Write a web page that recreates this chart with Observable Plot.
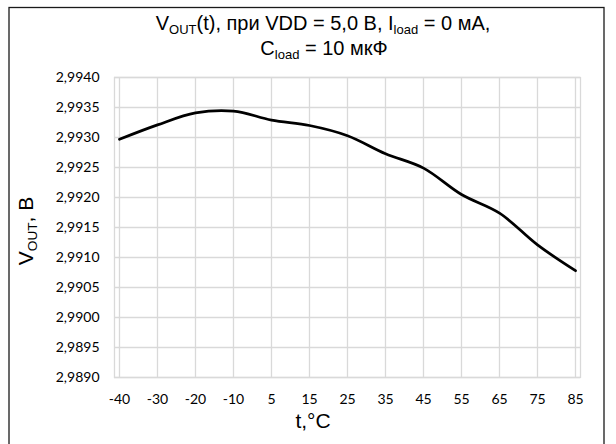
<!DOCTYPE html>
<html>
<head>
<meta charset="utf-8">
<script src="https://cdn.jsdelivr.net/npm/d3@7"></script>
<script src="https://cdn.jsdelivr.net/npm/@observablehq/plot@0.6"></script>
<style>
  html, body { margin: 0; padding: 0; background: #fff; }
  #chart { width: 616px; height: 444px; overflow: hidden; }
</style>
</head>
<body>
<div id="chart"></div>
<script>
// Temperature categories (equally spaced in the original chart)
const categories = ["-40", "-30", "-20", "-10", "5", "15", "25", "35", "45", "55", "65", "75", "85"];
// Output voltage, V
const vout = [2.99297, 2.99321, 2.99341, 2.99344, 2.99329, 2.99320, 2.99303, 2.99273, 2.99249, 2.99205, 2.99174, 2.99121, 2.99078];
// Y axis tick values
const yTicks = [2.9890, 2.9895, 2.9900, 2.9905, 2.9910, 2.9915, 2.9920, 2.9925, 2.9930, 2.9935, 2.9940];

const table = categories.map((t, i) => ({ t, v: vout[i] }));
const grid = "#d9d9d9";
const fmt = d => d.toFixed(4).replace(".", ",");

const svg = Plot.plot({
  width: 616,
  height: 444,
  marginLeft: 114,
  marginRight: 36,
  marginTop: 77,
  marginBottom: 67,
  style: { fontFamily: "Lato, 'Open Sans', sans-serif", fontSize: "14px", color: "#000", background: "#fff" },
  x: { type: "point", domain: categories, padding: 0, label: null },
  y: { domain: [2.989, 2.994], label: null },
  marks: [
    Plot.gridY(yTicks, { stroke: grid, strokeOpacity: 1, strokeWidth: 1.3 }),
    Plot.gridX(categories, { stroke: grid, strokeOpacity: 1, strokeWidth: 1.3 }),
    Plot.frame({ stroke: grid, strokeWidth: 1.3 }),
    Plot.axisY(yTicks, { tickSize: 0, tickPadding: 15, tickFormat: fmt, fontSize: 14, label: null }),
    Plot.axisX(categories, { tickSize: 0, tickPadding: 17, fontSize: 14, label: null }),
    Plot.line(table, { x: "t", y: "v", curve: "catmull-rom", stroke: "#000", strokeWidth: 2.75 })
  ]
});

const s = d3.select(svg);
// Outer chart border
s.append("rect")
  .attr("x", 9).attr("y", 7.5).attr("width", 595).attr("height", 460)
  .attr("fill", "none").attr("stroke", "#1a1a1a").attr("stroke-width", 1.3);

const titleFont = "'Liberation Sans', Arial, sans-serif";
function addRich(parts, x, y, size, anchor, transform) {
  const t = s.append("text")
    .attr("x", x).attr("y", y)
    .attr("text-anchor", anchor)
    .attr("font-family", titleFont)
    .attr("font-size", size)
    .attr("fill", "#000");
  if (transform) t.attr("transform", transform);
  let prevSub = false;
  for (const [str, sub] of parts) {
    const ts = t.append("tspan").text(str);
    if (sub) ts.attr("font-size", size * 0.65).attr("dy", size * 0.18);
    else if (prevSub) ts.attr("dy", -size * 0.18);
    prevSub = sub;
  }
  return t;
}

// Title
addRich([["V", false], ["OUT", true], ["(t), при VDD = 5,0 В, I", false], ["load", true], [" = 0 мА,", false]], 323, 30, 20, "middle");
addRich([["C", false], ["load", true], [" = 10 мкФ", false]], 324, 55, 20, "middle");

// Axis titles
addRich([["V", false], ["OUT", true], [", В", false]], 0, 0, 21, "middle", "translate(33,231) rotate(-90)");
addRich([["t,°C", false]], 313, 428, 21, "middle");

document.getElementById("chart").appendChild(svg);
</script>
</body>
</html>
